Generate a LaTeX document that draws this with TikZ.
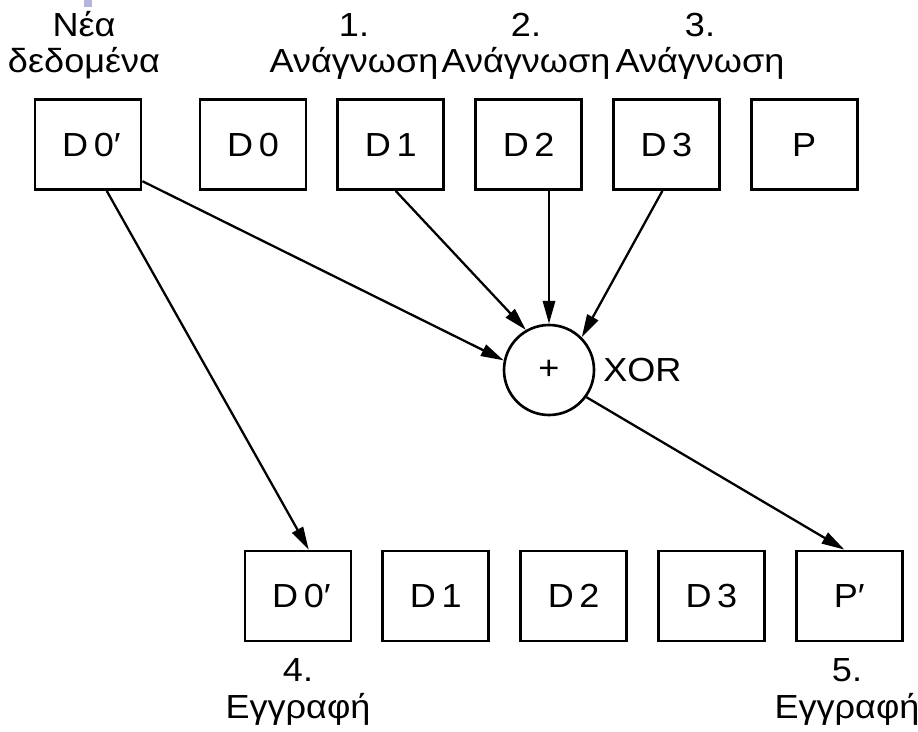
\documentclass[tikz,border=0pt]{standalone}
\usepackage{fontspec}
\setmainfont[FakeStretch=1.08]{Liberation Sans}
\usepackage{tikz}
\usetikzlibrary{positioning,calc,arrows.meta}
\definecolor{marker}{HTML}{B4B4DC}
\tikzstyle{block} = [rectangle, draw=black, line width=1.6pt, minimum width=2.12cm, minimum height=1.8cm, inner sep=0pt, text height=13.6pt, text depth=0pt, font=\fontsize{19pt}{21pt}\selectfont]
\tikzstyle{xorgate} = [circle, draw=black, line width=1.5pt, minimum size=1.8cm, inner sep=0pt, font=\fontsize{19pt}{21pt}\selectfont]
\tikzstyle{caption} = [align=center, anchor=base, inner sep=0pt, font=\fontsize{19pt}{20.5pt}\selectfont]
\tikzstyle{arrow} = [line width=1.3pt, -{Triangle[length=13pt,width=7pt]}]

\begin{document}
\begin{tikzpicture}[node distance=0.58cm]
        \useasboundingbox (0,0) rectangle (18.36,-14.64);
        \fill[marker] (1.68,0) rectangle (1.84,-0.14);
        % upper row: disks before the write
        \node[block] (tD0n) at (1.76,-2.89) {D\,0\rlap{′}};
        \node[block] (tD0) at (5.06,-2.89) {D\,0};
        \node[block, right=of tD0] (tD1) {D\,1};
        \node[block, right=of tD1] (tD2) {D\,2};
        \node[block, right=of tD2] (tD3) {D\,3};
        \node[block, right=of tD3] (tP) {P};
        % lower row: disks after the write
        \node[block] (bD0n) at (5.96,-11.92) {D\,0\rlap{′}};
        \node[block, right=of bD0n] (bD1) {D\,1};
        \node[block, right=of bD1] (bD2) {D\,2};
        \node[block, right=of bD2] (bD3) {D\,3};
        \node[block, right=of bD3] (bPn) {P′};
        % parity gate
        \node[xorgate] (xor) at (10.98,-7.40) {+};
        \node[right=1pt of xor, font=\fontsize{19pt}{21pt}\selectfont] (xorlbl) {XOR};
        % step captions
        \node[caption] (capNew) at (1.68,-1.46) {Νέα\\δεδομένα};
        \node[caption] (capR1) at (7.08,-1.46) {1.\\Ανάγνωση};
        \node[caption] (capR2) at (10.52,-1.46) {2.\\Ανάγνωση};
        \node[caption] (capR3) at (14.0,-1.46) {3.\\Ανάγνωση};
        \node[caption] (capW4) at (5.96,-14.36) {4.\\Εγγραφή};
        \node[caption] (capW5) at (16.94,-14.36) {5.\\Εγγραφή};
        % connectors
        \draw[arrow] (tD0n.-34) -- (xor.168);
        \draw[arrow] (tD0n.-68) -- (bD0n.77);
        \draw[arrow] (tD1.-84) -- (xor.120);
        \draw[arrow] (xor.north |- tD2.south) -- (xor.north);
        \draw[arrow] (tD3.-95) -- (xor.45);
        \draw[arrow] (xor.-36) -- (bPn.96);
\end{tikzpicture}
\end{document}
